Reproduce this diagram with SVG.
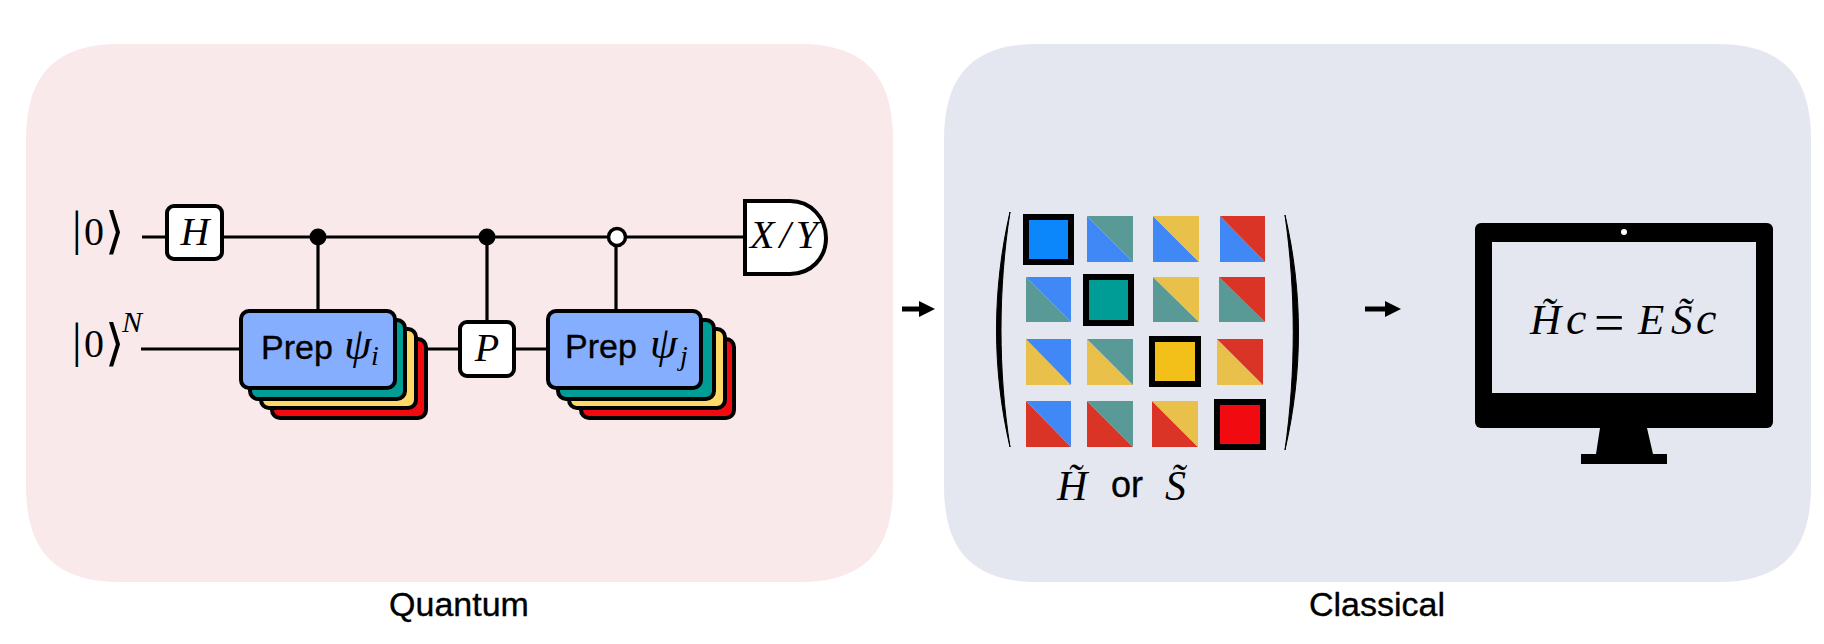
<svg xmlns="http://www.w3.org/2000/svg" width="1824" height="644" viewBox="0 0 1824 644">
<style>
text{fill:#000}
.m{font-family:"Liberation Serif","DejaVu Serif",serif;font-style:italic}
.r{font-family:"Liberation Serif","DejaVu Sans",serif}
.s{font-family:"Liberation Sans",Arial,sans-serif;stroke:#000;stroke-width:.35}
.w{stroke:#000;stroke-width:3.2;fill:none}
.b{stroke:#000;stroke-width:4;fill:#fff}
.c{stroke:#000;stroke-width:4}
.blue{fill:#3f88f5}.teal{fill:#5a9a96}.yel{fill:#e8c04a}.red{fill:#da3427}
.k{stroke:#000;stroke-width:6}
.ang{font-weight:200}
</style>
<defs>
<marker id="ah" markerUnits="userSpaceOnUse" markerWidth="17" markerHeight="17" refX="0" refY="8" orient="auto"><path d="M0 0L16 8L0 16Z" fill="#000"/></marker>
</defs>
<g id="panel-quantum"><path d="M26 140C26 72 58 44 120 44H800C861 44 893 72 893 140V486C893 554 861 582 800 582H120C58 582 26 554 26 486Z" fill="#f9e9eb"/><text class="s" x="459" y="616" font-size="34" text-anchor="middle">Quantum</text></g>
<g id="panel-classical"><path d="M944 140C944 72 976 44 1038 44H1717C1779 44 1811 72 1811 140V486C1811 554 1779 582 1717 582H1038C976 582 944 554 944 486Z" fill="#e4e7ef"/><text class="s" x="1377" y="616" font-size="34" text-anchor="middle">Classical</text></g>
<g id="connectors">
<path class="w" d="M142 237H744M141 349H240M425 349H458M516 349H546M318 237V310M487 237V321M616 237V310"/>
<path d="M902 309H919" stroke="#000" stroke-width="5" marker-end="url(#ah)"/>
<path d="M1365 309H1385" stroke="#000" stroke-width="5" marker-end="url(#ah)"/>
</g>
<g id="ket0"><text class="r" y="245"><tspan x="72" font-size="48">|</tspan><tspan x="84" font-size="40">0</tspan><tspan x="105" class="r ang" font-size="50" y="248">⟩</tspan></text></g>
<g id="ket0N"><text class="r" y="357"><tspan x="72" font-size="48">|</tspan><tspan x="84" font-size="40">0</tspan><tspan x="105" class="r ang" font-size="50" y="360">⟩</tspan></text><text class="m" x="122" y="332" font-size="30">N</text></g>
<g id="gate-H"><rect class="b" x="167" y="206" width="55" height="53" rx="7"/><text class="m" x="195" y="245" font-size="40" text-anchor="middle">H</text></g>
<g id="dot-1"><circle cx="318" cy="237" r="8.5" fill="#000"/></g>
<g id="dot-2"><circle cx="487" cy="237" r="8.5" fill="#000"/></g>
<g id="dot-3"><circle cx="617" cy="237" r="8.5" fill="#fff" stroke="#000" stroke-width="3.5"/></g>
<g id="prep-i">
<rect class="c" x="272" y="339" width="154" height="79" rx="8" fill="#f10a10"/>
<rect class="c" x="261" y="329" width="155" height="79" rx="8" fill="#ffd966"/>
<rect class="c" x="250" y="320" width="155" height="79" rx="8" fill="#009c96"/>
<rect class="c" x="241" y="311" width="154" height="77" rx="8" fill="#86aefe"/>
<text class="s" x="261" y="359" font-size="34">Prep</text><text class="m" x="344" y="359" font-size="44">ψ</text><text class="m" x="371" y="365" font-size="28">i</text>
</g>
<g id="gate-P"><rect class="b" x="460" y="322" width="54" height="54" rx="7"/><text class="m" x="487" y="361" font-size="40" text-anchor="middle">P</text></g>
<g id="prep-j">
<rect class="c" x="581" y="339" width="153" height="79" rx="8" fill="#f10a10"/>
<rect class="c" x="569" y="329" width="156" height="79" rx="8" fill="#ffd966"/>
<rect class="c" x="558" y="320" width="156" height="79" rx="8" fill="#009c96"/>
<rect class="c" x="548" y="311" width="153" height="77" rx="8" fill="#86aefe"/>
<text class="s" x="565" y="358" font-size="34">Prep</text><text class="m" x="650" y="358" font-size="44">ψ</text><text class="m" x="680" y="365" font-size="28">j</text>
</g>
<g id="measure"><path class="c" fill="#fff" d="M745 201H790C811 201 826 218 826 238C826 258 811 274 790 274H745Z"/><text class="m" x="750" y="248" font-size="40" textLength="68" lengthAdjust="spacing">X/Y</text></g>
<g id="matrix">
<path d="M1010 212C992 290 992 370 1010 447C998 370 998 290 1010 212Z" fill="#000" stroke="#000" stroke-width="1"/>
<path d="M1285 215C1303 292 1303 372 1285 450C1296 372 1296 292 1285 215Z" fill="#000" stroke="#000" stroke-width="1"/>
<rect class="k" x="1026" y="217" width="45" height="45" fill="#0b87fb"/>
<path class="blue" d="M1087 216V262H1133Z"/><path class="teal" d="M1087 216H1133V262Z"/>
<path class="blue" d="M1153 216V262H1199Z"/><path class="yel" d="M1153 216H1199V262Z"/>
<path class="blue" d="M1220 216V262H1265Z"/><path class="red" d="M1220 216H1265V262Z"/>
<path class="teal" d="M1026 277V322H1071Z"/><path class="blue" d="M1026 277H1071V322Z"/>
<rect class="k" x="1086" y="277" width="45" height="46" fill="#009c96"/>
<path class="teal" d="M1153 277V322H1199Z"/><path class="yel" d="M1153 277H1199V322Z"/>
<path class="teal" d="M1219 277V322H1265Z"/><path class="red" d="M1219 277H1265V322Z"/>
<path class="yel" d="M1026 339V385H1071Z"/><path class="blue" d="M1026 339H1071V385Z"/>
<path class="yel" d="M1087 339V385H1133Z"/><path class="teal" d="M1087 339H1133V385Z"/>
<rect class="k" x="1152" y="339" width="46" height="45" fill="#f2c019"/>
<path class="yel" d="M1217 339V385H1263Z"/><path class="red" d="M1217 339H1263V385Z"/>
<path class="red" d="M1026 401V447H1071Z"/><path class="blue" d="M1026 401H1071V447Z"/>
<path class="red" d="M1087 401V447H1133Z"/><path class="teal" d="M1087 401H1133V447Z"/>
<path class="red" d="M1152 401V447H1198Z"/><path class="yel" d="M1152 401H1198V447Z"/>
<rect class="k" x="1217" y="402" width="46" height="45" fill="#f10a10"/>
<text class="m" x="1057" y="500" font-size="42">H̃</text>
<text class="s" x="1111" y="497" font-size="36">or</text>
<text class="m" x="1165" y="500" font-size="42">S̃</text>
</g>
<g id="monitor">
<rect x="1475" y="223" width="298" height="205" rx="6" fill="#000"/>
<rect x="1492" y="242" width="264" height="151" fill="#e4e7ef"/>
<circle cx="1624" cy="232" r="3" fill="#fff"/>
<path d="M1600 428H1647L1653 454H1667V464H1581V454H1596Z" fill="#000"/>
<text class="m" y="334" font-size="43"><tspan x="1530">H̃</tspan><tspan x="1566" font-size="46">c</tspan><tspan x="1594" y="341" class="r" font-style="normal" font-size="54">=</tspan><tspan x="1638" y="334">E</tspan><tspan x="1671">S̃</tspan><tspan x="1696" font-size="46">c</tspan></text>
</g>
</svg>
